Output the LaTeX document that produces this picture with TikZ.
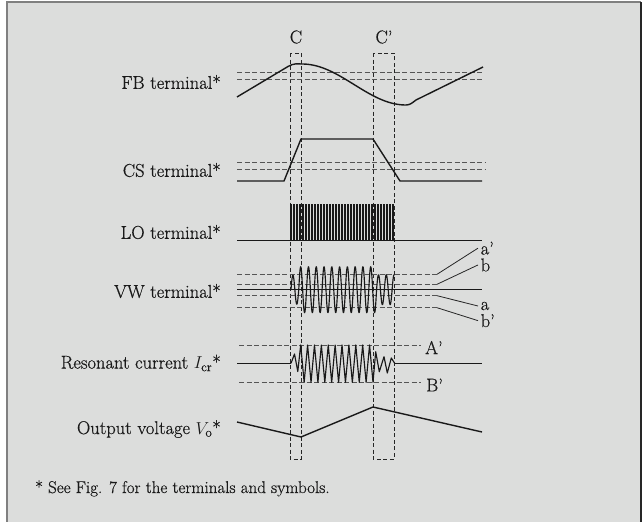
\documentclass[tikz,border=0pt]{standalone}
\usepackage{fontspec}
\setmainfont{Latin Modern Roman}[FakeBold=0.5]
\definecolor{bg}{RGB}{220,221,220}
\definecolor{refgray}{RGB}{85,85,85}
\begin{document}
\begin{tikzpicture}[x=1pt,y=-1pt,
  sig/.style={line width=1.4pt, line join=round, black!90},
  thinsig/.style={line width=1.15pt, line join=round, black!90},
  refl/.style={refgray, line width=1pt, dash pattern=on 5pt off 2.5pt},
  boxd/.style={black!85, line width=0.9pt, dash pattern=on 4pt off 2.5pt},
  lab/.style={font=\fontsize{18.5}{20}\selectfont, anchor=east, inner sep=0pt, text=black!90},
  tag/.style={font=\fontsize{18.5}{20}\selectfont, inner sep=1pt, text=black!90},
  lead/.style={black!85, line width=0.8pt}]
\clip (0,0) rectangle (643,522);
\fill[white] (0,0) rectangle (643,522);
\fill[bg] (7,2) rectangle (641,530);
\draw[gray, line width=2pt] (7,530) -- (7,2) -- (641,2);
\draw[black!85, line width=2pt] (641,2) -- (641,530);

% C boxes
\draw[boxd] (290,53) rectangle (301,459);
\draw[boxd] (373.3,53) rectangle (394,459);
\node[tag] (lC) at (296,37) {C};
\node[tag] (lCp) at (384,37) {C'};

% labels
\node[lab] (lFB) at (221,82) {FB terminal*};
\node[lab] (lCS) at (221,170) {CS terminal*};
\node[lab] (lLO) at (221,232) {LO terminal*};
\node[lab] (lVW) at (221,291) {VW terminal*};
\node[lab] (lIR) at (221,363) {Resonant current $I_{\mathrm{cr}}$*};
\node[lab] (lVO) at (221,429) {Output voltage $V_{\mathrm{o}}$*};

% FB terminal
\draw[refl] (237,72.7) -- (484,72.7);
\draw[refl] (237,79) -- (484,79);
\draw[sig] (237,97) -- (288,66.5) .. controls (294,63) and (297,64) .. (302,64)
  -- plot[domain=302:406, samples=60] (\x,{84.5-20.5*cos((\x-302)*1.730769)})
  .. controls (410,105) and (412,103) .. (416,100) -- (483,67);

% CS terminal
\draw[refl] (237,162.7) -- (485,162.7);
\draw[refl] (237,169) -- (485,169);
\draw[sig] (237,181) -- (284,181) -- (301,139) -- (373,139) -- (400,181) -- (482,181);

% LO terminal
\draw[sig] (237,240.7) -- (290.5,240.7);
\draw[sig] (394.5,240.7) -- (482,240.7);
\draw[line width=0.7pt, black!90] (290.5,240.7)
  \foreach \i in {0,...,34} { -- ++(0,-36.7) -- ++(0.5,0) -- ++(0,36.7) -- ++(2.5,0) };

% VW terminal
\draw[refl] (237,274.3) -- (437,274.3) coordinate (va1);
\draw[refl] (237,284.3) -- (437,284.3) coordinate (vb);
\draw[refl] (237,295.7) -- (437,295.7) coordinate (va);
\draw[refl] (237,307.7) -- (437,307.7) coordinate (vb1);
\draw[sig] (237,289.7) -- (482,289.7);
\draw[thinsig]
  plot[domain=290.97:298.75, samples=25] (\x,{289.7-14.5*sin((\x-298.75)*46.272)})
  -- plot[domain=298.75:376.55, samples=240] (\x,{289.7-23*sin((\x-298.75)*46.272)})
  -- plot[domain=376.55:394.1, samples=50] (\x,{289.7-15*sin((\x-298.75)*46.272)});
\node[tag, anchor=base west, inner sep=0.5pt] (ta1) at (480,254.5) {a'};
\node[tag, anchor=base west, inner sep=0.5pt] (tb) at (480,271.3) {b};
\node[tag, anchor=base west, inner sep=0.5pt] (ta) at (480,310) {a};
\node[tag, anchor=base west, inner sep=0.5pt] (tb1) at (480,327) {b'};
\draw[lead] (va1) -- ([xshift=-2pt]ta1.west);
\draw[lead] (vb) -- ([xshift=-2pt]tb.west);
\draw[lead] (va) -- ([xshift=-2pt]ta.west);
\draw[lead] (vb1) -- ([xshift=-2pt]tb1.west);

% Resonant current
\draw[refl] (239,345.5) -- (421,345.5) coordinate (rA);
\draw[refl] (239,382.3) -- (421,382.3) coordinate (rB);
\node[tag, anchor=west] (tA) at (424,347.5) {A'};
\node[tag, anchor=west] (tB) at (425,385) {B'};
\draw[sig] (237,363.3) -- (291,363.3);
\draw[sig] (394.7,363.3) -- (482,363.3);
\draw[thinsig] (291,363.3) -- (294.5,354) -- (297.8,371.5) -- (300.7,345)
  \foreach \i in {1,...,21} { -- ({300.7+3.443*\i},{363.65-18.65*cos(180*\i)}) }
  -- (375.7,351.7) -- (379.3,371.7) -- (384,356.7) -- (387.3,373) -- (391.3,358) -- (394.7,363.3);

% Output voltage
\draw[sig] (237,422) -- (301,437) -- (373,407) -- (482,432);

% footnote
\node[font=\fontsize{17}{19}\selectfont, anchor=base west, inner sep=0pt, text=black!90] (fn) at (35,493) {* See Fig. 7 for the terminals and symbols.};
\end{tikzpicture}
\end{document}
